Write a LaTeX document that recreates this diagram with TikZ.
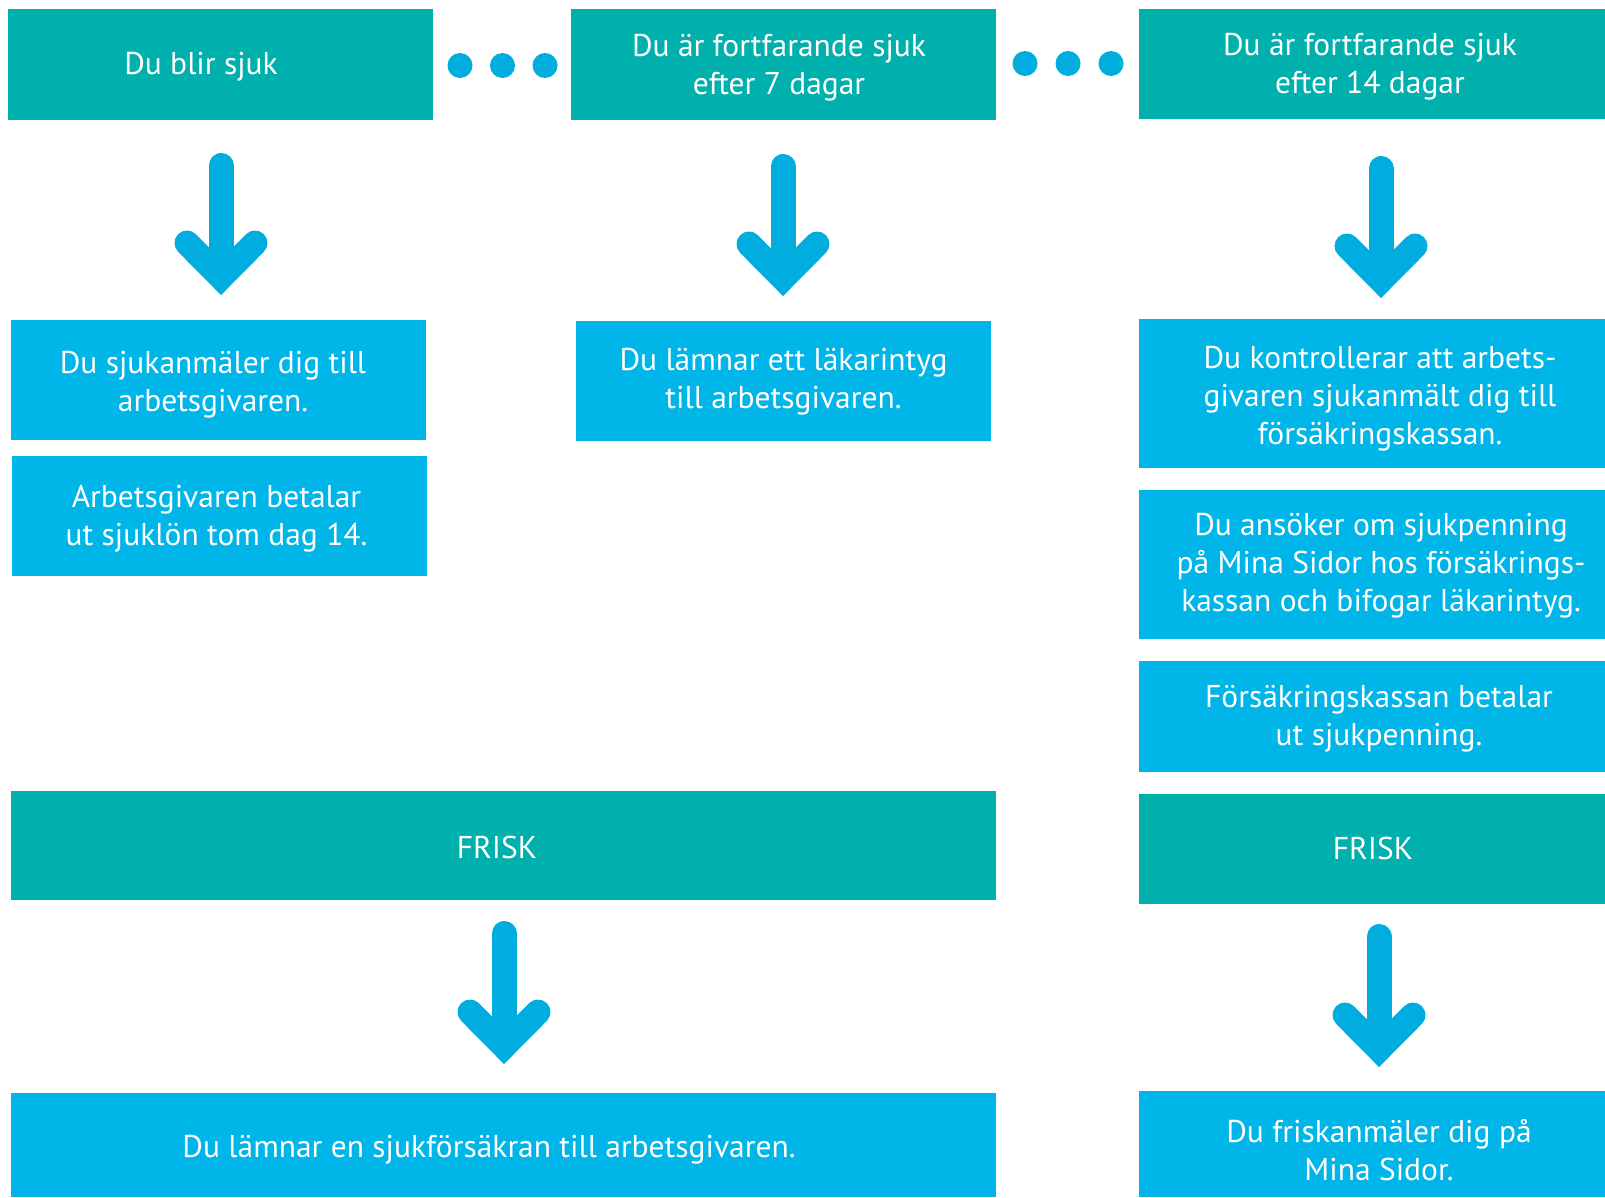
\documentclass[tikz,border=0pt]{standalone}
\usepackage{fontspec}
\setmainfont{PT Sans}
\usetikzlibrary{calc}
\definecolor{tealbox}{RGB}{0,176,172}
\definecolor{bluebox}{RGB}{0,181,231}
\definecolor{arrblue}{RGB}{0,173,222}
\tikzset{
  tbox/.style={fill=tealbox, draw=none, inner sep=0pt, outer sep=0pt},
  bbox/.style={fill=bluebox, draw=none, inner sep=0pt, outer sep=0pt},
  txt/.style={text=white, inner sep=0pt, align=center, font=\fontsize{31.5}{38}\selectfont},
  shaft/.style={draw=arrblue, line width=25pt, line cap=round},
  head/.style={draw=arrblue, line width=25pt, line cap=round, line join=miter},
  dot/.style={fill=arrblue, draw=none, circle, minimum size=25pt, inner sep=0pt}
}
\newcommand{\bigdownarrow}[2]{%
  \draw[shaft] ($(#1)+(0,12.5)$) -- ($(#2)+(0,-25)$);
  \draw[head] ($(#2)+(-34,-52)$) -- ($(#2)+(0,-17.7)$) -- ($(#2)+(34,-52)$);
}
\begin{document}
\begin{tikzpicture}[x=1pt,y=-1pt]
\useasboundingbox (0,0) rectangle (1605,1197);
% top row
\node[tbox, minimum width=425, minimum height=111] (A) at (220.5,64.5) {};
\node[txt] (At) at (201,67) {Du blir sjuk};
\node[tbox, minimum width=425, minimum height=111] (B) at (783.5,64.5) {};
\node[txt] (Bt) at (779,67.5) {Du är fortfarande sjuk\\efter 7 dagar};
\node[tbox, minimum width=466, minimum height=110] (C) at (1372,64) {};
\node[txt] (Ct) at (1370,67) {Du är fortfarande sjuk\\efter 14 dagar};
% dots
\node[dot] (d1) at (460,65.5) {};
\node[dot] (d2) at (502.5,65.5) {};
\node[dot] (d3) at (545,65.5) {};
\node[dot] (d4) at (1025,63.5) {};
\node[dot] (d5) at (1068,63.5) {};
\node[dot] (d6) at (1111,63.5) {};
% column 1
\node[bbox, minimum width=415, minimum height=120] (D) at (218.5,380) {};
\node[txt] (Dt) at (213,385) {Du sjukanmäler dig till\\arbetsgivaren.};
\node[bbox, minimum width=415, minimum height=120] (E) at (219.5,516) {};
\node[txt] (Et) at (216.5,518.5) {Arbetsgivaren betalar\\ut sjuklön tom dag 14.};
% column 2
\node[bbox, minimum width=415, minimum height=120] (F) at (783.5,381) {};
\node[txt] (Ft) at (783.5,381.5) {Du lämnar ett läkarintyg\\till arbetsgivaren.};
% column 3
\node[bbox, minimum width=466, minimum height=149] (G) at (1372,393.5) {};
\node[txt] (Gt) at (1380,398.5) {Du kontrollerar att arbets-\\givaren sjukanmält dig till\\försäkringskassan.};
\node[bbox, minimum width=466, minimum height=149] (H) at (1372,564.5) {};
\node[txt] (Ht) at (1381,565.5) {Du ansöker om sjukpenning\\på Mina Sidor hos försäkrings-\\kassan och bifogar läkarintyg.};
\node[bbox, minimum width=466, minimum height=111] (I) at (1372,716.5) {};
\node[txt] (It) at (1379,718.5) {Försäkringskassan betalar\\ut sjukpenning.};
% FRISK row
\node[tbox, minimum width=985, minimum height=109] (J) at (503.5,845.5) {};
\node[txt] (Jt) at (497,847.5) {FRISK};
\node[tbox, minimum width=466, minimum height=110] (K) at (1372,848.5) {};
\node[txt] (Kt) at (1373,848.5) {FRISK};
% bottom row
\node[bbox, minimum width=985, minimum height=104] (L) at (503.5,1145) {};
\node[txt] (Lt) at (489,1150) {Du lämnar en sjukförsäkran till arbetsgivaren.};
\node[bbox, minimum width=466, minimum height=106] (M) at (1372,1144) {};
\node[txt] (Mt) at (1379,1150) {Du friskanmäler dig på\\Mina Sidor.};
% arrows
\coordinate (a1s) at (221,153);
\coordinate (a1e) at (221,295);
\bigdownarrow{a1s}{a1e}
\coordinate (a2s) at (783,154);
\coordinate (a2e) at (783,296);
\bigdownarrow{a2s}{a2e}
\coordinate (a3s) at (1381,156);
\coordinate (a3e) at (1381,298);
\bigdownarrow{a3s}{a3e}
\coordinate (a4s) at (504,921);
\coordinate (a4e) at (504,1064);
\bigdownarrow{a4s}{a4e}
\coordinate (a5s) at (1379,924);
\coordinate (a5e) at (1379,1067);
\bigdownarrow{a5s}{a5e}
\end{tikzpicture}
\end{document}
